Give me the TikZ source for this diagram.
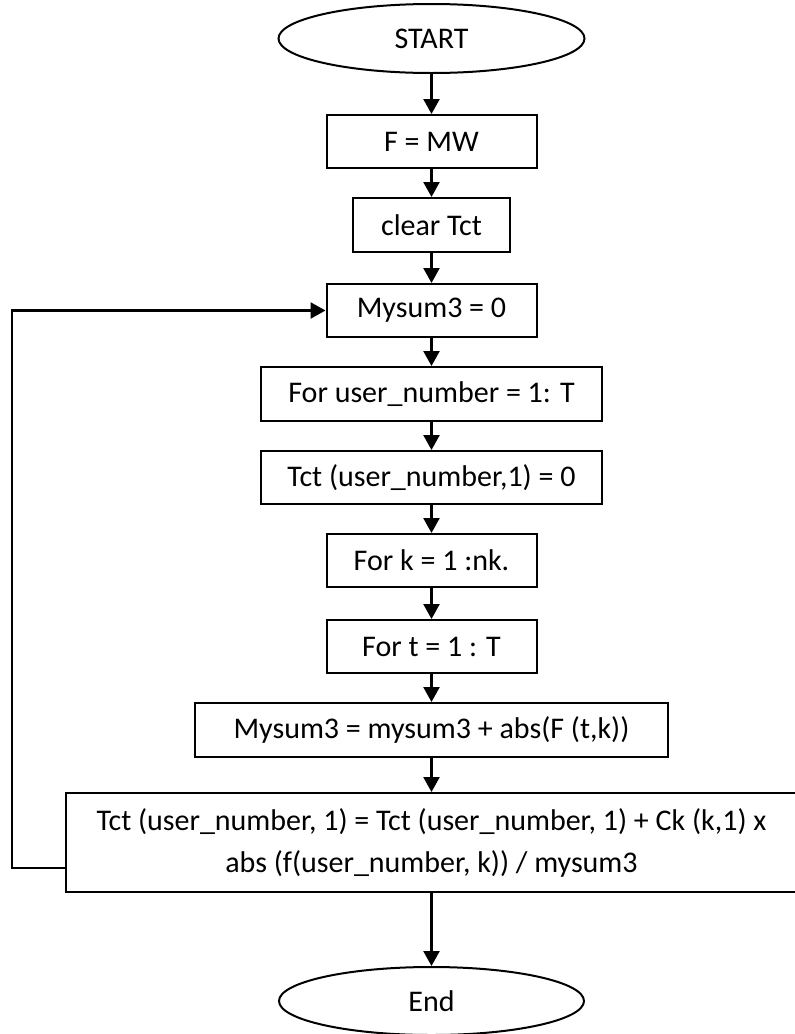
\documentclass[tikz,border=0pt]{standalone}
\usepackage{fontspec}
\setmainfont{Carlito}
\usetikzlibrary{shapes.geometric,arrows.meta,calc}
\begin{document}
\begin{tikzpicture}[x=1pt,y=-1pt,
  box/.style={draw,line width=2pt,rectangle,inner sep=0pt,align=center,font=\fontsize{30}{42}\selectfont},
  term/.style={draw,line width=2pt,ellipse,inner sep=0pt,font=\fontsize{30}{35}\selectfont},
  flow/.style={line width=2.4pt,-{Triangle[length=15pt,width=16pt]}}]
\useasboundingbox (0,0) rectangle (795,1034);
\node[term,minimum width=306pt,minimum height=69pt] (start) at (431.5,38.5) {START};
\node[box,minimum width=210pt,minimum height=53pt] (fmw) at (431.5,141.5) {F = MW};
\node[box,minimum width=157.5pt,minimum height=54pt] (clr) at (431.5,225) {clear Tct};
\node[box,minimum width=210pt,minimum height=53pt] (m0) at (431.5,310.5) {Mysum3 = 0};
\node[box,minimum width=340.5pt,minimum height=54pt] (forun) at (431.5,394) {For user\_number = 1: T};
\node[box,minimum width=340.5pt,minimum height=53pt] (tct0) at (431.5,477.5) {Tct (user\_number,1) = 0};
\node[box,minimum width=210pt,minimum height=53pt] (fork) at (431.5,560.5) {For k = 1 :nk.};
\node[box,minimum width=210pt,minimum height=53pt] (fort) at (431.5,646.5) {For t = 1 : T};
\node[box,minimum width=473pt,minimum height=54pt] (msum) at (431.5,730) {Mysum3 = mysum3 + abs(F (t,k))};
\node[box,minimum width=731pt,minimum height=99pt] (big) at (431.5,842.5) {Tct (user\_number, 1) = Tct (user\_number, 1) + Ck (k,1) x\\abs (f(user\_number, k)) / mysum3};
\node[term,minimum width=305pt,minimum height=68pt] (end) at (431.5,1001) {End};
\draw[flow] (start.south) -- (fmw.north);
\draw[flow] (fmw.south) -- (clr.north);
\draw[flow] (clr.south) -- (m0.north);
\draw[flow] (m0.south) -- (forun.north);
\draw[flow] (forun.south) -- (tct0.north);
\draw[flow] (tct0.south) -- (fork.north);
\draw[flow] (fork.south) -- (fort.north);
\draw[flow] (fort.south) -- (msum.north);
\draw[flow] (msum.south) -- (big.north);
\draw[flow] (big.south) -- (end.north);
\coordinate (bigout) at ($(big.south west)+(0,-25)$);
\coordinate (lx) at (12,0);
\draw[flow] (bigout) -- (bigout -| lx) |- (m0.west);
\end{tikzpicture}
\end{document}
